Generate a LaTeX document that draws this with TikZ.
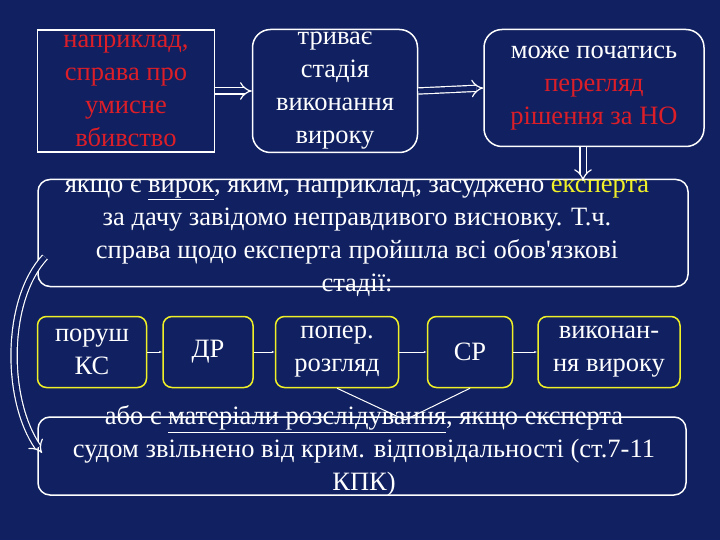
\documentclass[tikz,border=0pt]{standalone}
\usepackage{fontspec}
\setmainfont{Liberation Serif}
\usetikzlibrary{arrows.meta}
\definecolor{bg}{RGB}{16,32,96}
\definecolor{rd}{RGB}{220,30,40}
\definecolor{yl}{RGB}{240,240,40}
\begin{document}
\begin{tikzpicture}[x=1pt,y=-1pt,
  wbox/.style={draw=white,line width=1.5pt,text=white,align=center,inner sep=0pt},
  ybox/.style={draw=yl,line width=1.5pt,rounded corners=9pt,text=white,align=center,inner sep=0pt},
  dbl/.style={draw=white,double=bg,double distance=5pt,line width=1.2pt,-{Implies[scale=1.8]}},
  sarr/.style={draw=white,line width=1pt,-{Latex[length=3pt]}},
  txt/.style={font=\fontsize{26.5}{33}\selectfont}]
\fill[bg] (0,0) rectangle (720,540);
\useasboundingbox (0,0) rectangle (720,540);
% top row
\node[wbox,minimum width=177pt,minimum height=122pt,txt,text=rd] (b1) at (126,91) {наприклад,\\справа про\\умисне\\вбивство};
\node[wbox,rounded corners=18pt,minimum width=165pt,minimum height=123pt,txt] (b2) at (335,91) {триває\\стадія\\виконання\\вироку};
\node[wbox,rounded corners=18pt,minimum width=220pt,minimum height=117pt,txt] (b3) at (594,88) {може початись\\\textcolor{rd}{перегляд}\\\textcolor{rd}{рішення за НО}};
\draw[dbl] (b1.east) -- (b2.west);
\draw[dbl] (b2.east) -- (b3.west);
% big box
\node[wbox,rounded corners=12pt,minimum width=650pt,minimum height=107pt] (big) at (363,233) {};
\node[txt,text=white,align=center] (bt) at (357,238) {якщо є \underline{вирок}, яким, наприклад, засуджено \textcolor{yl}{експерта}\\за дачу завідомо неправдивого висновку. Т.ч.\\справа щодо експерта пройшла всі обов\textquotesingle язкові\\стадії:};
\coordinate (dtop) at (583,147);
\coordinate (dbot) at (583,181);
\draw[dbl] (dtop) -- (dbot);
% stages
\node[ybox,minimum width=109pt,minimum height=71pt,txt] (s1) at (92,352) {поруш\\КС};
\node[ybox,minimum width=90pt,minimum height=71pt,txt] (s2) at (208,352) {ДР};
\node[ybox,minimum width=123pt,minimum height=71pt,txt] (s3) at (337,352) {попер.\\розгляд};
\node[ybox,minimum width=85pt,minimum height=71pt,txt] (s4) at (470,352) {СР};
\node[ybox,minimum width=142pt,minimum height=71pt,txt] (s5) at (609,352) {виконан-\\ня вироку};
\draw[sarr] (s1) -- (s2);
\draw[sarr] (s2) -- (s3);
\draw[sarr] (s3) -- (s4);
\draw[sarr] (s4) -- (s5);
% lower box
\node[wbox,rounded corners=12pt,minimum width=648pt,minimum height=78pt] (low) at (362,456) {};
\node[txt,text=white,align=center] (lt) at (364,451) {або є \underline{матеріали розслідування}, якщо експерта\\судом звільнено від крим. відповідальності (ст.7-11\\КПК)};
\coordinate (conv) at (405,420);
\draw[white,line width=1pt] (s3.south) -- (conv);
\draw[white,line width=1pt] (s4.south) -- (conv);
% curved arrow
\coordinate (cs) at (45,257);
\coordinate (ce) at (42,453);
\draw[dbl] (cs) .. controls (5,300) and (5,400) .. (ce);
\end{tikzpicture}
\end{document}
